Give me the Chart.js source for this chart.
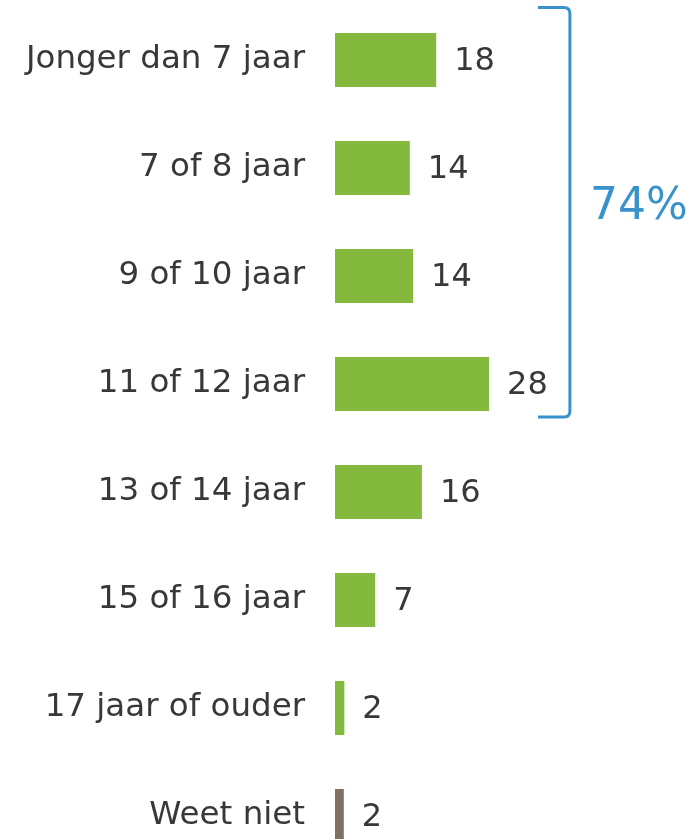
<!DOCTYPE html>
<html>
<head>
<meta charset="utf-8">
<script src="https://cdn.jsdelivr.net/npm/chart.js@4/dist/chart.umd.min.js"></script>
<style>
html,body{margin:0;padding:0;background:#fff;overflow:hidden;}
#wrap{width:697px;height:870px;position:relative;}
</style>
</head>
<body>
<div id="wrap"><canvas id="c" width="697" height="870"></canvas></div>
<script>
const categories = ["Jonger dan 7 jaar","7 of 8 jaar","9 of 10 jaar","11 of 12 jaar","13 of 14 jaar","15 of 16 jaar","17 jaar of ouder","Weet niet"];
const values = [18.4, 13.6, 14.2, 28.0, 15.8, 7.3, 1.7, 1.6];
const valueLabels = ["18","14","14","28","16","7","2","2"];
const barColors = ["#83B93D","#83B93D","#83B93D","#83B93D","#83B93D","#83B93D","#83B93D","#7F7264"];
const bracketLabel = "74%";
const bracketRange = [0, 3];

const FONT = "'DejaVu Sans', Verdana, sans-serif";
const TEXT = "#383838";
const BLUE = "#3A92CB";

const annot = {
  id: 'annot',
  afterDatasetsDraw(chart) {
    const ctx = chart.ctx;
    const meta = chart.getDatasetMeta(0);
    ctx.save();
    ctx.font = "32px " + FONT;
    ctx.fillStyle = TEXT;
    ctx.textAlign = "left";
    ctx.textBaseline = "middle";
    meta.data.forEach((bar, i) => {
      ctx.fillText(valueLabels[i], bar.x + 18, bar.y + 2);
    });
    // bracket
    const ys = chart.scales.y, xs = chart.scales.x;
    const top = ys.getPixelForValue(bracketRange[0]) - 52.5;
    const bot = ys.getPixelForValue(bracketRange[1]) + 33;
    const xr = xs.getPixelForValue(42.7);
    const xl = xs.getPixelForValue(36.9);
    ctx.strokeStyle = BLUE;
    ctx.lineWidth = 3;
    ctx.beginPath();
    ctx.moveTo(xl, top);
    ctx.lineTo(xr - 6, top);
    ctx.quadraticCurveTo(xr, top, xr, top + 6);
    ctx.lineTo(xr, bot - 6);
    ctx.quadraticCurveTo(xr, bot, xr - 6, bot);
    ctx.lineTo(xl, bot);
    ctx.stroke();
    ctx.fillStyle = BLUE;
    ctx.font = "44px " + FONT;
    ctx.textAlign = "left";
    ctx.fillText(bracketLabel, xr + 20, (top + bot) / 2 - 5);
    ctx.restore();
  }
};

new Chart(document.getElementById('c'), {
  type: 'bar',
  data: {
    labels: categories,
    datasets: [{
      data: values,
      backgroundColor: barColors,
      borderWidth: 0,
      barPercentage: 1,
      categoryPercentage: 0.5
    }]
  },
  options: {
    indexAxis: 'y',
    responsive: false,
    animation: false,
    events: [],
    layout: { padding: { top: 6, right: 0, bottom: 0, left: 0 } },
    plugins: { legend: { display: false }, tooltip: { enabled: false } },
    scales: {
      x: { display: false, min: 0, max: 65.8 },
      y: {
        grid: { display: false, drawTicks: false },
        border: { display: false },
        ticks: { color: TEXT, font: { family: FONT, size: 32.5 }, padding: 30 },
        afterFit(scale) { scale.width = 335; scale.paddingTop = 0; scale.paddingBottom = 0; }
      }
    }
  },
  plugins: [annot]
});
</script>
</body>
</html>
